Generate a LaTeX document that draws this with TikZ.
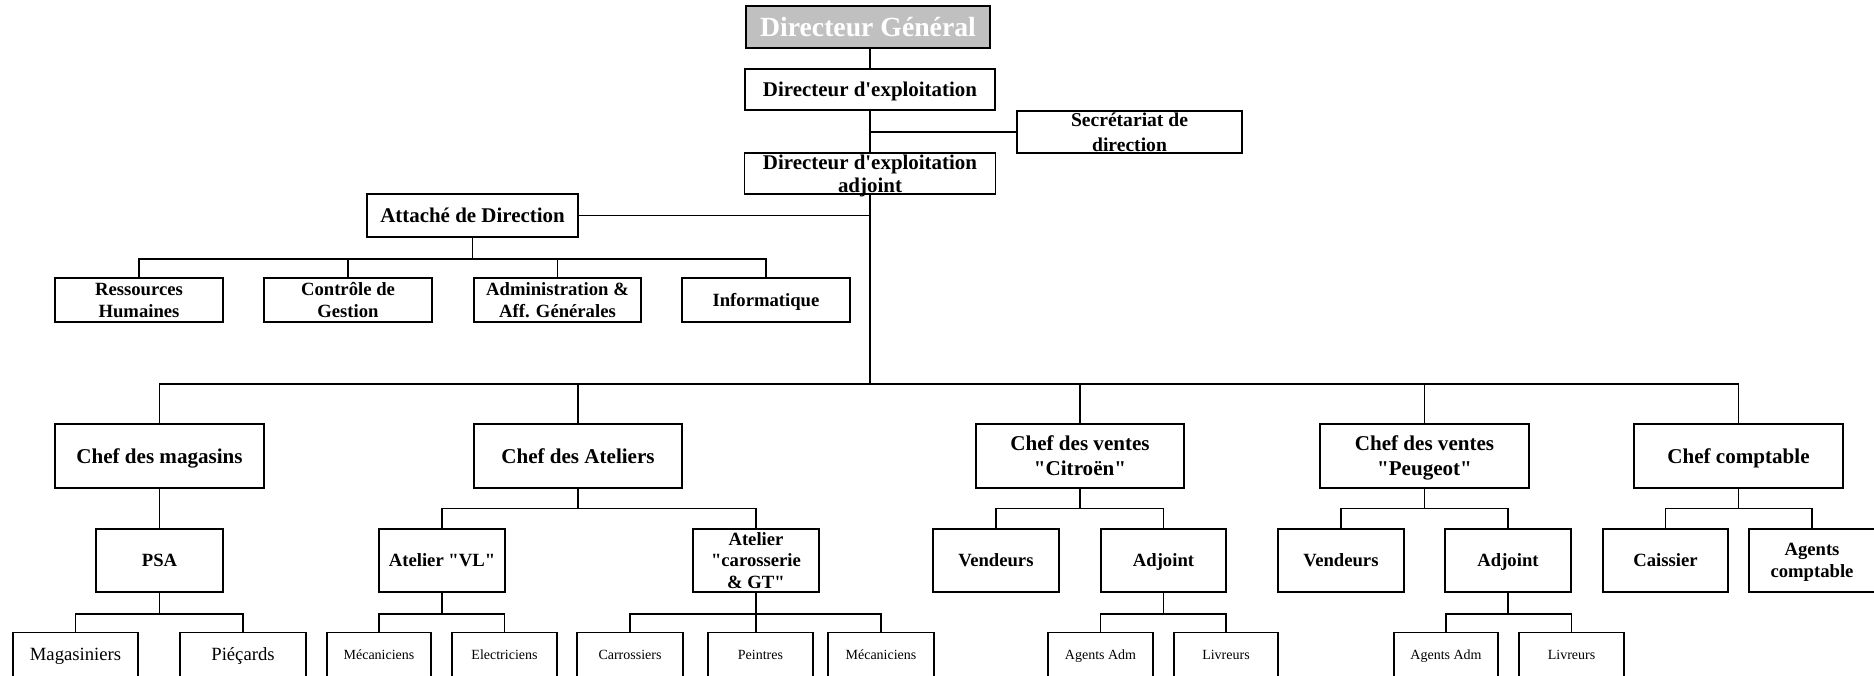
\documentclass[tikz,border=0pt]{standalone}
\usepackage{fontspec}
\setmainfont{Liberation Serif}[Ligatures=TeXOff]
\definecolor{dggray}{RGB}{192,192,192}
\begin{document}
\begin{tikzpicture}[x=0.75pt,y=-0.75pt,
  box/.style={draw=black, line width=1.4pt, fill=white, inner xsep=0pt, inner ysep=-6pt,
    align=center, text depth=0pt},
  sz/.style 2 args={minimum width=#1*0.75pt, minimum height=#2*0.75pt},
  link/.style={line width=1.2pt},
  ftop/.style={font=\fontsize{20.8}{24}\selectfont\bfseries},
  fdir/.style={font=\fontsize{15.7}{17.5}\selectfont\bfseries},
  fsec/.style={font=\fontsize{14.7}{18.5}\selectfont\bfseries},
  fchef/.style={font=\fontsize{15.8}{18.8}\selectfont\bfseries},
  fsub/.style={font=\fontsize{14}{16.4}\selectfont\bfseries},
  fleaf/.style={font=\fontsize{14}{16.4}\selectfont},
  fsmall/.style={font=\fontsize{10.5}{12.5}\selectfont},
]
\useasboundingbox (0,0) rectangle (1874,675);
\clip (0,0) rectangle (1874,675);

% --- direction ---
\node[box,sz={244}{42},fill=dggray,text=white,ftop] (dg) at (868,27) {Directeur Général};
\node[box,sz={250}{41},fdir] (de) at (870,89.5) {Directeur d'exploitation};
\node[box,sz={225}{42},fsec] (sec) at (1129.5,132) {Secrétariat de\\direction};
\node[box,sz={251}{41},fdir] (dea) at (870,173.5) {Directeur d'exploitation\\adjoint};

\draw[link] (de.north) -- (de.north |- dg.south);
\draw[link] (de.south) -- (de.south |- dea.north);
\draw[link] (sec.west) -- (sec.west -| de.south);

% --- attaché de direction and its services ---
\node[box,sz={211}{43},fdir] (att) at (472.5,215.5) {Attaché de Direction};
\node[box,sz={168}{44},fsub] (rh) at (139,300) {Ressources\\Humaines};
\node[box,sz={168}{44},fsub] (cg) at (348,300) {Contrôle de\\Gestion};
\node[box,sz={167}{44},fsub] (aag) at (557.5,300) {Administration \&\\Aff. Générales};
\node[box,sz={168}{44},fsub] (info) at (766,300) {Informatique};

\draw[link] (att.east) -- (att.east -| dea.south);
\draw[link] (att.south) -- ++(0,21) coordinate (attbus);
\draw[link] (attbus) -| (rh.north);
\draw[link] (attbus) -| (info.north);
\draw[link] (cg.north) -- (cg.north |- attbus);
\draw[link] (aag.north) -- (aag.north |- attbus);

% --- chefs de service ---
\node[box,sz={209}{64},fchef] (cm) at (159.5,456) {Chef des magasins};
\node[box,sz={208}{64},fchef] (ca) at (578,456) {Chef des Ateliers};
\node[box,sz={208}{64},fchef] (cvc) at (1080,456) {Chef des ventes\\"Citroën"};
\node[box,sz={209}{64},fchef] (cvp) at (1424.5,456) {Chef des ventes\\"Peugeot"};
\node[box,sz={209}{64},fchef] (cc) at (1738.5,456) {Chef comptable};

\draw[link] (dea.south) -- ++(0,189) coordinate (mbus);
\draw[link] (mbus) -| (cm.north);
\draw[link] (mbus) -| (cc.north);
\draw[link] (ca.north) -- (ca.north |- mbus);
\draw[link] (cvc.north) -- (cvc.north |- mbus);
\draw[link] (cvp.north) -- (cvp.north |- mbus);

% --- second level ---
\node[box,sz={127}{63},fsub] (psa) at (159.5,560.5) {PSA};
\node[box,sz={126}{63},fsub] (vl) at (442,560.5) {Atelier "VL"};
\node[box,sz={126}{63},fsub] (car) at (756,560.5) {Atelier\\"carosserie\\\& GT"};
\node[box,sz={126}{63},fsub] (venc) at (996,560.5) {Vendeurs};
\node[box,sz={125}{63},fsub] (adjc) at (1163.5,560.5) {Adjoint};
\node[box,sz={126}{63},fsub] (venp) at (1341,560.5) {Vendeurs};
\node[box,sz={126}{63},fsub] (adjp) at (1508,560.5) {Adjoint};
\node[box,sz={125}{63},fsub] (cais) at (1665.5,560.5) {Caissier};
\node[box,sz={126}{63},fsub] (agc) at (1812,560.5) {Agents\\comptable};

\draw[link] (cm.south) -- (psa.north);
\draw[link] (ca.south) -- ++(0,19.5) coordinate (cabus);
\draw[link] (cabus) -| (vl.north);
\draw[link] (cabus) -| (car.north);
\draw[link] (cvc.south) -- ++(0,19.5) coordinate (cvcbus);
\draw[link] (cvcbus) -| (venc.north);
\draw[link] (cvcbus) -| (adjc.north);
\draw[link] (cvp.south) -- ++(0,19.5) coordinate (cvpbus);
\draw[link] (cvpbus) -| (venp.north);
\draw[link] (cvpbus) -| (adjp.north);
\draw[link] (cc.south) -- ++(0,19.5) coordinate (ccbus);
\draw[link] (ccbus) -| (cais.north);
\draw[link] (ccbus) -| (agc.north);

% --- staff ---
\node[box,sz={125}{44},fleaf] (mag) at (75.5,654.5) {Magasiniers};
\node[box,sz={126}{44},fleaf] (pie) at (243,654.5) {Piéçards};
\node[box,sz={104}{44},fsmall] (mec1) at (379,654.5) {Mécaniciens};
\node[box,sz={105}{44},fsmall] (elec) at (504.5,654.5) {Electriciens};
\node[box,sz={106}{44},fsmall] (carr) at (630,654.5) {Carrossiers};
\node[box,sz={105}{44},fsmall] (pei) at (760.5,654.5) {Peintres};
\node[box,sz={106}{44},fsmall] (mec2) at (881,654.5) {Mécaniciens};
\node[box,sz={105}{44},fsmall] (agac) at (1100.5,654.5) {Agents Adm};
\node[box,sz={104}{44},fsmall] (livc) at (1226,654.5) {Livreurs};
\node[box,sz={104}{44},fsmall] (agap) at (1446,654.5) {Agents Adm};
\node[box,sz={105}{44},fsmall] (livp) at (1571.5,654.5) {Livreurs};

\draw[link] (psa.south) -- ++(0,21) coordinate (psabus);
\draw[link] (psabus) -| (mag.north);
\draw[link] (psabus) -| (pie.north);
\draw[link] (vl.south) -- ++(0,21) coordinate (vlbus);
\draw[link] (vlbus) -| (mec1.north);
\draw[link] (vlbus) -| (elec.north);
\draw[link] (car.south) -- ++(0,21) coordinate (carbus);
\draw[link] (carbus) -| (carr.north);
\draw[link] (carbus) -| (mec2.north);
\draw[link] (carbus) -- (carbus |- pei.north);
\draw[link] (adjc.south) -- ++(0,21) coordinate (adjcbus);
\draw[link] (adjcbus) -| (agac.north);
\draw[link] (adjcbus) -| (livc.north);
\draw[link] (adjp.south) -- ++(0,21) coordinate (adjpbus);
\draw[link] (adjpbus) -| (agap.north);
\draw[link] (adjpbus) -| (livp.north);
\end{tikzpicture}
\end{document}
